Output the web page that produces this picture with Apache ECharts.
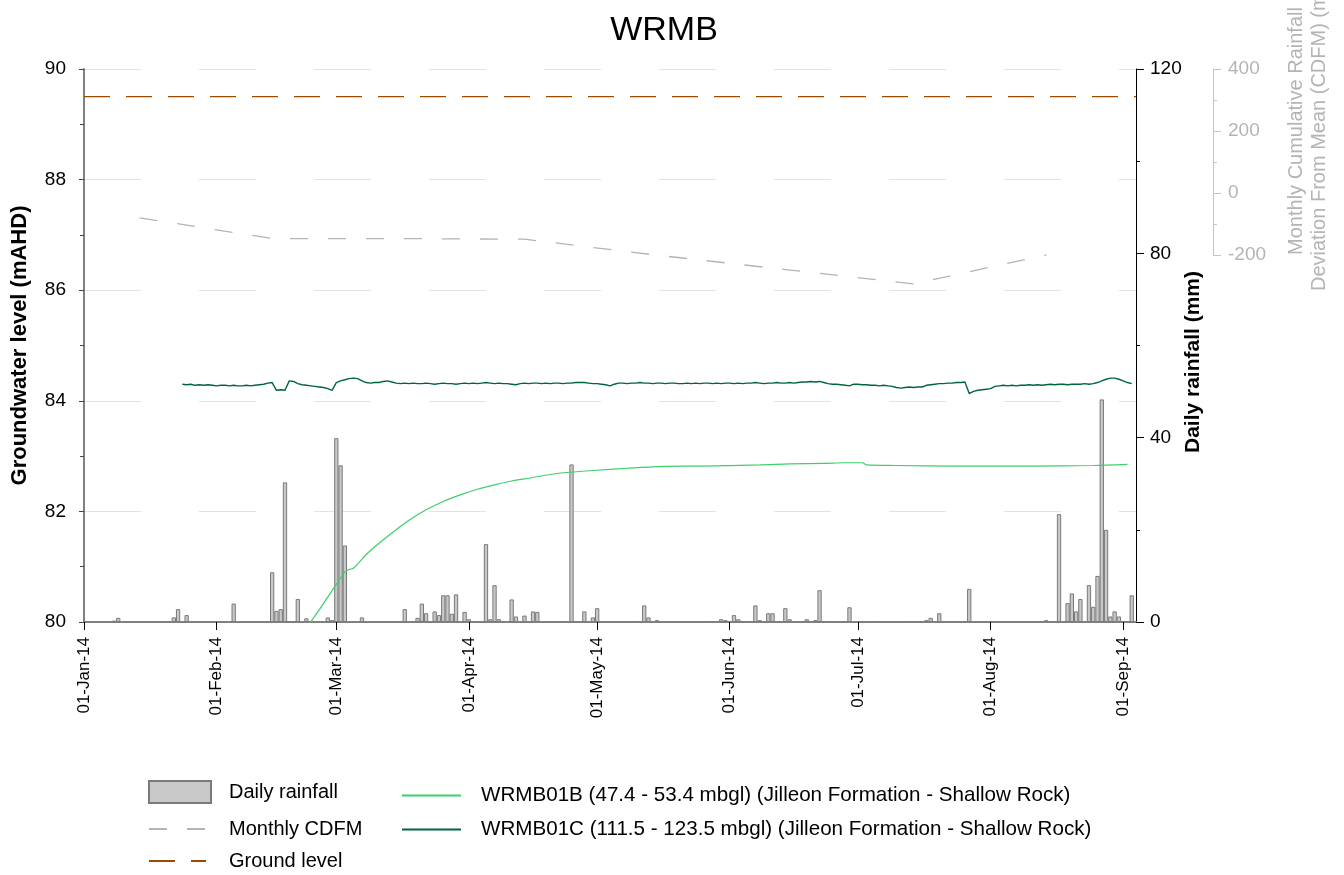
<!DOCTYPE html>
<html>
<head>
<meta charset="utf-8">
<title>WRMB</title>
<script src="https://cdn.jsdelivr.net/npm/echarts@6.0.0/dist/echarts.min.js"></script>
<style>
  html, body { margin: 0; padding: 0; background: #fff; }
  #main { width: 1344px; height: 875px; }
</style>
</head>
<body>
<div id="main"></div>
<script>
// month ticks on the date axis
const tickDates = ['2014-01-01', '2014-02-01', '2014-03-01', '2014-04-01', '2014-05-01',
  '2014-06-01', '2014-07-01', '2014-08-01', '2014-09-01'];
const monthNames = ['Jan', 'Feb', 'Mar', 'Apr', 'May', 'Jun', 'Jul', 'Aug', 'Sep', 'Oct', 'Nov', 'Dec'];

// daily rainfall (mm)
const rainDates = ['2014-01-08', '2014-01-09', '2014-01-22', '2014-01-23', '2014-01-25', '2014-02-05',
  '2014-02-14', '2014-02-15', '2014-02-16', '2014-02-17', '2014-02-18', '2014-02-19', '2014-02-20',
  '2014-02-22', '2014-02-27', '2014-02-28', '2014-03-01', '2014-03-02', '2014-03-03', '2014-03-07',
  '2014-03-17', '2014-03-20', '2014-03-21', '2014-03-22', '2014-03-24', '2014-03-25', '2014-03-26',
  '2014-03-27', '2014-03-28', '2014-03-29', '2014-03-31', '2014-04-01', '2014-04-05', '2014-04-06',
  '2014-04-07', '2014-04-08', '2014-04-11', '2014-04-12', '2014-04-14', '2014-04-16', '2014-04-17',
  '2014-04-23', '2014-04-25', '2014-04-26', '2014-04-28', '2014-04-30', '2014-05-01', '2014-05-11',
  '2014-05-12', '2014-05-13', '2014-05-15', '2014-05-27', '2014-05-30', '2014-05-31', '2014-06-02',
  '2014-06-03', '2014-06-04', '2014-06-06', '2014-06-07', '2014-06-08', '2014-06-10', '2014-06-11',
  '2014-06-14', '2014-06-15', '2014-06-19', '2014-06-21', '2014-06-22', '2014-06-23', '2014-06-29',
  '2014-07-05', '2014-07-13', '2014-07-14', '2014-07-17', '2014-07-18', '2014-07-20', '2014-07-21',
  '2014-07-22', '2014-07-24', '2014-07-26', '2014-07-27', '2014-08-14', '2014-08-17', '2014-08-19',
  '2014-08-20', '2014-08-21', '2014-08-22', '2014-08-24', '2014-08-25', '2014-08-26', '2014-08-27',
  '2014-08-28', '2014-08-29', '2014-08-30', '2014-08-31', '2014-09-01', '2014-09-03'];
const rainMm = [0.3, 0.9, 1.0, 2.8, 1.5, 4.0,
  10.8, 2.4, 2.8, 30.3, 0.2, 0.2, 5.0,
  0.8, 1.0, 0.4, 39.9, 34.0, 16.6, 1.0,
  2.8, 0.9, 4.0, 1.9, 2.3, 1.5, 5.8,
  5.8, 1.8, 6.0, 2.2, 0.6, 16.9, 0.6,
  8.0, 0.6, 4.9, 1.2, 1.4, 2.3, 2.2,
  0.2, 34.2, 0.2, 2.3, 1.0, 3.0, 0.2,
  3.6, 1.0, 0.4, 0.2, 0.6, 0.4, 1.5,
  0.6, 0.2, 0.2, 3.6, 0.4, 1.9, 1.9,
  3.0, 0.6, 0.6, 0.4, 6.9, 0.2, 3.2,
  0.2, 0.2, 0.2, 0.4, 0.9, 1.9, 0.2,
  0.2, 0.2, 0.2, 7.2, 0.4, 23.4, 4.1,
  6.2, 2.3, 5.0, 8.0, 3.3, 10.0, 48.3,
  20.0, 1.2, 2.3, 1.2, 0.2, 5.8];

// monthly cumulative deviation from mean (mm)
const cdfmDates = ['2014-01-14', '2014-02-14', '2014-03-14', '2014-04-14',
  '2014-05-14', '2014-06-14', '2014-07-14', '2014-08-14'];
const cdfmMm = [-80, -147, -147, -149, -199, -247, -293, -200];

// ground level (mAHD)
const groundDates = ['2014-01-01', '2014-09-04'];
const groundLevel = [89.5, 89.5];

// WRMB01B water level (mAHD)
const b01Dates = ['2014-02-22', '2014-02-23', '2014-02-25', '2014-02-27', '2014-03-01', '2014-03-03',
  '2014-03-04', '2014-03-05', '2014-03-06', '2014-03-08', '2014-03-10', '2014-03-14', '2014-03-18',
  '2014-03-22', '2014-03-26', '2014-03-30', '2014-04-03', '2014-04-07', '2014-04-11', '2014-04-15',
  '2014-04-22', '2014-04-30', '2014-05-08', '2014-05-15', '2014-05-25', '2014-06-08', '2014-06-15',
  '2014-06-23', '2014-06-28', '2014-07-02', '2014-07-03', '2014-07-10', '2014-07-24', '2014-08-10',
  '2014-08-25', '2014-09-02'];
const b01Level = [79.89, 80.00, 80.22, 80.45, 80.68, 80.90,
  80.95, 80.97, 81.05, 81.22, 81.36, 81.61, 81.84,
  82.03, 82.18, 82.30, 82.40, 82.48, 82.55, 82.60,
  82.69, 82.74, 82.78, 82.81, 82.82, 82.84, 82.86,
  82.87, 82.88, 82.88, 82.84, 82.83, 82.82, 82.82,
  82.83, 82.85];

// WRMB01C water level (mAHD), daily from c01Start
const c01Start = '2014-01-24';
const c01Level = [
  84.30, 84.29, 84.30, 84.28, 84.29, 84.28, 84.29, 84.28, 84.27, 84.28,
  84.28, 84.27, 84.28, 84.27, 84.27, 84.28, 84.27, 84.28, 84.29, 84.30,
  84.32, 84.33, 84.19, 84.20, 84.19, 84.36, 84.35, 84.31, 84.29, 84.28,
  84.27, 84.26, 84.25, 84.24, 84.22, 84.19, 84.33, 84.36, 84.38, 84.40,
  84.41, 84.40, 84.36, 84.33, 84.32, 84.33, 84.33, 84.35, 84.36, 84.34,
  84.32, 84.31, 84.32, 84.31, 84.32, 84.31, 84.31, 84.32, 84.31, 84.30,
  84.31, 84.32, 84.31, 84.31, 84.30, 84.31, 84.32, 84.31, 84.32, 84.31,
  84.32, 84.33, 84.32, 84.31, 84.32, 84.31, 84.31, 84.30, 84.29, 84.31,
  84.32, 84.31, 84.32, 84.32, 84.31, 84.32, 84.31, 84.32, 84.32, 84.31,
  84.32, 84.32, 84.33, 84.33, 84.33, 84.32, 84.31, 84.31, 84.30, 84.29,
  84.27, 84.30, 84.32, 84.32, 84.31, 84.32, 84.32, 84.33, 84.32, 84.32,
  84.31, 84.32, 84.32, 84.31, 84.32, 84.32, 84.31, 84.31, 84.32, 84.31,
  84.32, 84.31, 84.32, 84.32, 84.31, 84.32, 84.31, 84.32, 84.32, 84.31,
  84.32, 84.31, 84.32, 84.32, 84.33, 84.32, 84.31, 84.32, 84.32, 84.33,
  84.32, 84.32, 84.33, 84.32, 84.33, 84.34, 84.34, 84.35, 84.34, 84.35,
  84.33, 84.31, 84.30, 84.30, 84.29, 84.28, 84.27, 84.30, 84.30, 84.29,
  84.29, 84.28, 84.28, 84.27, 84.28, 84.27, 84.26, 84.24, 84.23, 84.24,
  84.25, 84.24, 84.25, 84.25, 84.28, 84.29, 84.30, 84.31, 84.31, 84.32,
  84.32, 84.33, 84.33, 84.34, 84.13, 84.17, 84.19, 84.20, 84.21, 84.22,
  84.26, 84.27, 84.28, 84.27, 84.28, 84.27, 84.28, 84.28, 84.29, 84.28,
  84.29, 84.28, 84.29, 84.30, 84.29, 84.30, 84.30, 84.29, 84.30, 84.30,
  84.30, 84.31, 84.30, 84.31, 84.33, 84.36, 84.39, 84.41, 84.41, 84.39,
  84.36, 84.33, 84.31];

const nameB = 'WRMB01B (47.4 - 53.4 mbgl) (Jilleon Formation - Shallow Rock)';
const nameC = 'WRMB01C (111.5 - 123.5 mbgl) (Jilleon Formation - Shallow Rock)';
const FONT = "'Liberation Sans', Arial, sans-serif";
const DAY = 24 * 3600 * 1000;

// x axis runs in days since 01-Jan-14
const T0 = +echarts.time.parse('2014-01-01');
function toDay(s) {
  return Math.round((+echarts.time.parse(s) - T0) / DAY);
}
function fmtDate(v) {
  const d = new Date(T0 + Math.round(v) * DAY + 12 * 3600 * 1000);
  return ('0' + d.getDate()).slice(-2) + '-' + monthNames[d.getMonth()] + '-' + String(d.getFullYear()).slice(-2);
}

const tickDays = tickDates.map(toDay);
const c01Day0 = toDay(c01Start);
const xMin = toDay(groundDates[0]);
const xMax = toDay(groundDates[1]);

// one legend block per entry so each sits where the original puts it
function legendItem(name, left, top, w, h, pad, fs, isBar) {
  let lg = {
    data: [name], left: left, top: top, padding: 0,
    itemWidth: w, itemHeight: h, selectedMode: false,
    textStyle: { fontSize: fs, color: '#000', padding: [0, 0, 0, pad] }
  };
  if (isBar) lg.icon = 'rect';
  else lg.itemStyle = { opacity: 0 }; // hide the dot, keep the line
  return lg;
}

let myChart = echarts.init(document.getElementById('main'));
myChart.setOption({
  animation: false,
  textStyle: { fontFamily: FONT },
  graphic: [
    {
      type: 'text', x: 664, y: 31,
      style: { text: 'WRMB', font: "34px " + FONT, fill: '#000', textAlign: 'center', textVerticalAlign: 'middle' }
    },
    {
      type: 'text', x: 1193, y: 362, rotation: Math.PI / 2,
      style: { text: 'Daily rainfall (mm)', font: "bold 21px " + FONT, fill: '#000', textAlign: 'center', textVerticalAlign: 'middle' }
    },
    {
      type: 'text', x: 1308, y: 131, rotation: Math.PI / 2,
      style: {
        text: 'Monthly Cumulative Rainfall\nDeviation From Mean (CDFM) (mm)',
        font: "20px " + FONT, fill: '#b4b4b4', lineHeight: 23,
        textAlign: 'center', textVerticalAlign: 'middle'
      }
    }
  ],
  grid: [
    { left: 84, right: 208, top: 69, bottom: 253 },
    { left: 84, right: 208, top: 69, height: 186 }
  ],
  legend: [
    legendItem('Daily rainfall', 148, 780, 62, 22, 13, 20, true),
    legendItem('Monthly CDFM', 148, 819, 57, 14, 18, 20, false),
    legendItem('Ground level', 148, 851, 57, 14, 18, 20, false),
    legendItem(nameB, 401, 785, 59, 14, 15, 20.6, false),
    legendItem(nameC, 401, 819, 59, 14, 15, 20.6, false)
  ],
  xAxis: [
    {
      type: 'value', gridIndex: 0,
      min: xMin, max: xMax,
      axisLine: { onZero: false, lineStyle: { color: '#808080', width: 2 } },
      axisTick: { show: true, customValues: tickDays, length: 8, lineStyle: { color: '#000' } },
      axisLabel: {
        customValues: tickDays, rotate: 90, fontSize: 17, color: '#000', margin: 15,
        formatter: fmtDate
      },
      splitLine: { show: false }
    },
    {
      type: 'value', gridIndex: 1, show: false,
      min: xMin, max: xMax,
      axisLine: { onZero: false }
    }
  ],
  yAxis: [
    {
      type: 'value', gridIndex: 0, position: 'left',
      min: 80, max: 90, interval: 2,
      name: 'Groundwater level (mAHD)', nameLocation: 'middle', nameGap: 53,
      nameTextStyle: { fontSize: 22, fontWeight: 'bold', color: '#000' },
      axisLine: { show: true, onZero: false, lineStyle: { color: '#808080', width: 2 } },
      axisTick: { show: true, length: 5, lineStyle: { color: '#444' } },
      minorTick: { show: true, splitNumber: 2, length: 4, lineStyle: { color: '#444' } },
      axisLabel: { fontSize: 19, color: '#000', margin: 18 },
      splitLine: { show: true, lineStyle: { color: '#e3e3e3', width: 1, type: [57, 58] } }
    },
    {
      type: 'value', gridIndex: 0, position: 'right',
      min: 0, max: 120, interval: 40,
      axisLine: { show: true, onZero: false, lineStyle: { color: '#000', width: 1 } },
      axisTick: { show: true, length: 8, lineStyle: { color: '#000' } },
      minorTick: { show: true, splitNumber: 2, length: 4, lineStyle: { color: '#000' } },
      axisLabel: { fontSize: 19, color: '#000', margin: 14 },
      splitLine: { show: false }
    },
    {
      type: 'value', gridIndex: 1, position: 'right', offset: 77,
      min: -200, max: 400, interval: 200,
      axisLine: { show: true, onZero: false, lineStyle: { color: '#c4c4c4', width: 1 } },
      axisTick: { show: true, length: 8, lineStyle: { color: '#c4c4c4' } },
      minorTick: { show: true, splitNumber: 2, length: 4, lineStyle: { color: '#c4c4c4' } },
      axisLabel: { fontSize: 19, color: '#b4b4b4', margin: 15 },
      splitLine: { show: false }
    }
  ],
  series: [
    {
      name: 'Daily rainfall', type: 'bar', xAxisIndex: 0, yAxisIndex: 1,
      data: rainDates.map((d, i) => [toDay(d), rainMm[i]]),
      barWidth: 4.3,
      itemStyle: { color: '#c8c8c8', borderColor: '#7a7a7a', borderWidth: 1 },
      z: 1
    },
    {
      name: 'Monthly CDFM', type: 'line', xAxisIndex: 1, yAxisIndex: 2,
      data: cdfmDates.map((d, i) => [toDay(d), cdfmMm[i]]),
      showSymbol: false, symbol: 'none', clip: false,
      lineStyle: { color: '#b4b4b4', width: 1.3, type: [18, 20] },
      itemStyle: { color: '#b4b4b4' },
      z: 2
    },
    {
      name: nameB, type: 'line', xAxisIndex: 0, yAxisIndex: 0,
      data: b01Dates.map((d, i) => [toDay(d), b01Level[i]]),
      showSymbol: false, symbol: 'none', smooth: 0.3,
      lineStyle: { color: '#3ccf6a', width: 1.2 },
      itemStyle: { color: '#3ccf6a' },
      z: 3
    },
    {
      name: nameC, type: 'line', xAxisIndex: 0, yAxisIndex: 0,
      data: c01Level.map((v, i) => [c01Day0 + i, v]),
      showSymbol: false, symbol: 'none',
      lineStyle: { color: '#00663a', width: 1.4 },
      itemStyle: { color: '#00663a' },
      z: 3
    },
    {
      name: 'Ground level', type: 'line', xAxisIndex: 0, yAxisIndex: 0,
      data: groundDates.map((d, i) => [toDay(d), groundLevel[i]]),
      showSymbol: false, symbol: 'none',
      lineStyle: { color: '#994c00', width: 1.3, type: [26, 16] },
      itemStyle: { color: '#994c00' },
      z: 4
    }
  ]
});
</script>
</body>
</html>
